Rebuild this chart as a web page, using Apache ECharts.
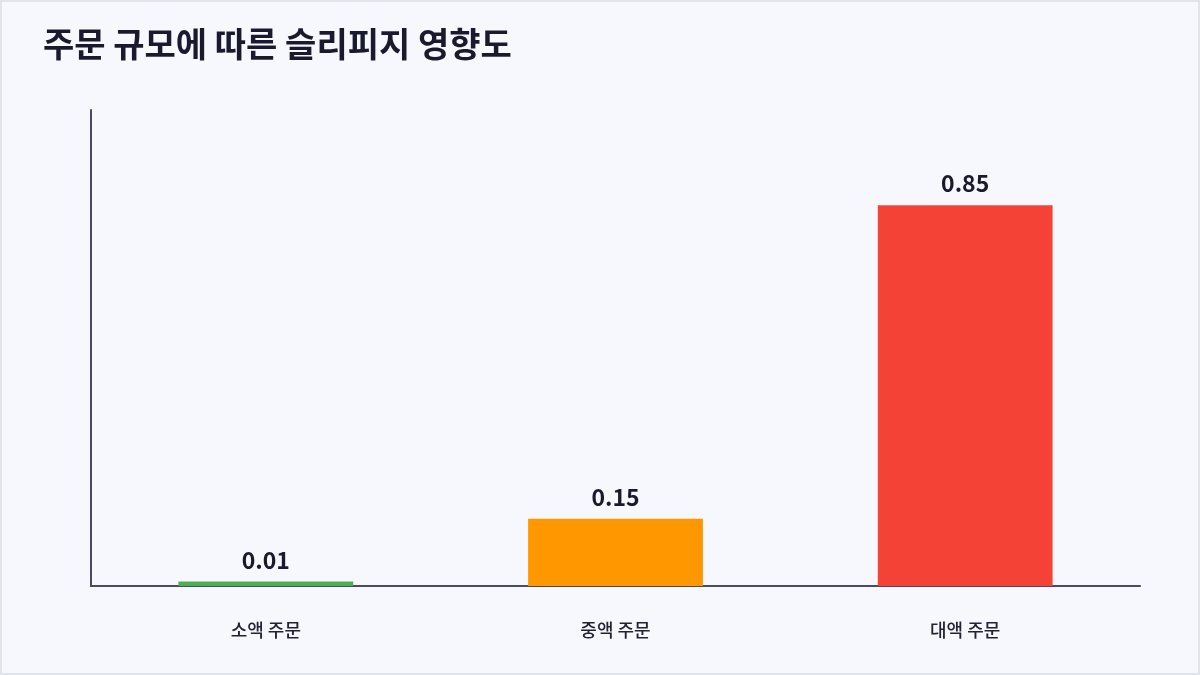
<!DOCTYPE html>
<html>
<head>
<meta charset="utf-8">
<script src="https://cdn.jsdelivr.net/npm/echarts@6/dist/echarts.min.js"></script>
<style>
  html, body { margin: 0; padding: 0; background: #f7f8fd; }
  #main { width: 1200px; height: 675px; box-sizing: border-box; border: 2px solid #e2e4ec; }
</style>
</head>
<body>
<div id="main"></div>
<script>
var categories = ['소액 주문', '중액 주문', '대액 주문'];
var slippage = [0.01, 0.15, 0.85];
var barColors = ['#4caf50', '#ff9800', '#f44336'];

var myChart = echarts.init(document.getElementById('main'));

var option = {
  backgroundColor: '#f7f8fd',
  textStyle: { fontFamily: 'Noto Sans CJK KR' },
  title: {
    text: '주문 규모에 따른 슬리피지 영향도',
    left: 36,
    top: 20,
    textStyle: {
      fontFamily: 'Noto Sans CJK KR',
      fontSize: 34,
      fontWeight: 'bold',
      color: '#1a1a2e'
    }
  },
  grid: {
    left: 89,
    right: 58,
    top: 108,
    bottom: 87
  },
  xAxis: {
    type: 'category',
    data: categories,
    axisLine: { lineStyle: { color: '#4a4a68', width: 2 } },
    axisTick: { show: false },
    axisLabel: {
      margin: 35,
      fontSize: 18,
      fontWeight: 500,
      color: '#222233',
      fontFamily: 'Noto Sans CJK KR'
    }
  },
  yAxis: {
    type: 'value',
    min: 0,
    max: function (v) { return v.max * 1.25; },
    axisLine: { show: true, lineStyle: { color: '#4a4a68', width: 2 } },
    axisTick: { show: false },
    axisLabel: { show: false },
    splitLine: { show: false }
  },
  series: [
    {
      type: 'bar',
      barWidth: '50%',
      data: slippage.map(function (v, i) {
        return { value: v, itemStyle: { color: barColors[i] } };
      }),
      label: {
        show: true,
        position: 'top',
        distance: 10,
        fontSize: 23,
        fontWeight: 'bold',
        color: '#1a1a2e',
        fontFamily: 'Noto Sans CJK KR',
        formatter: function (p) {
          return p.value.toFixed(2);
        }
      }
    }
  ]
};

myChart.setOption(option);
</script>
</body>
</html>
